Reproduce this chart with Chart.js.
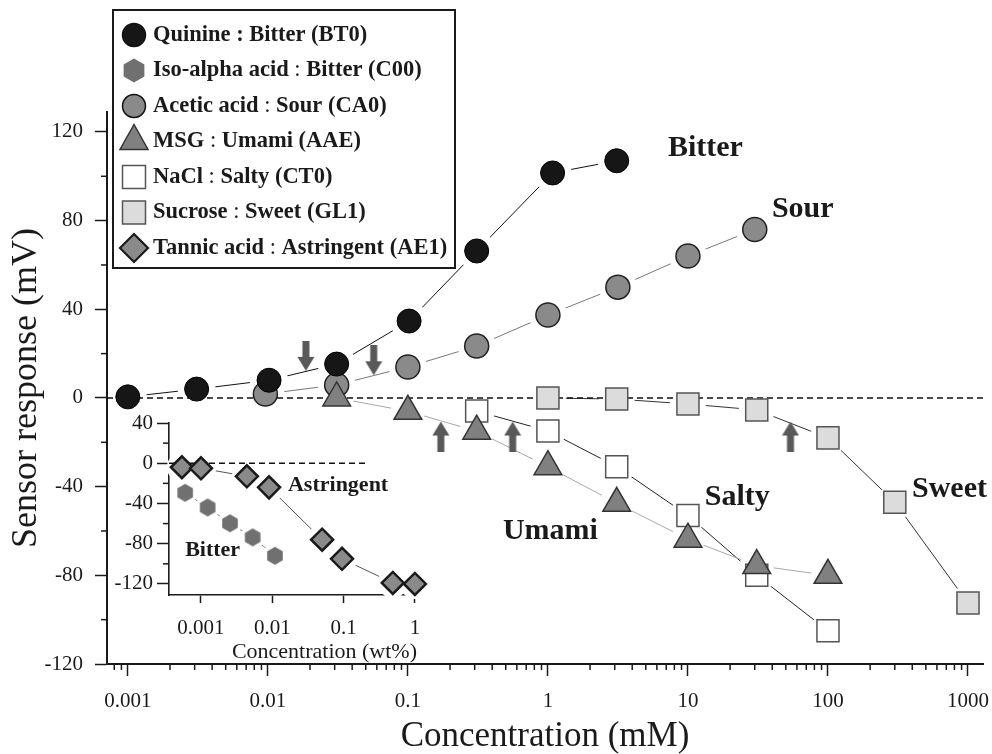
<!DOCTYPE html>
<html><head><meta charset="utf-8">
<script src="https://cdn.jsdelivr.net/npm/chart.js@4.4.1/dist/chart.umd.min.js"></script>
<style>
html,body{margin:0;padding:0;background:#fff;}
#wrap{position:relative;width:992px;height:754px;overflow:hidden;}
#main{position:absolute;left:0;top:0;}
#inset{position:absolute;left:100px;top:405px;}
</style></head><body>
<div id="wrap"><canvas id="main" width="992" height="754"></canvas><canvas id="inset" width="330" height="265"></canvas></div>
<script>
// ---------- data ----------
const bitterX = [0.001, 0.0031, 0.0102, 0.031, 0.102, 0.31, 1.08, 3.1];
const bitterY = [0.5, 4, 8, 15.3, 34.7, 66.3, 101.5, 107];
const sourX = [0.0096, 0.031, 0.1, 0.31, 1, 3.16, 10, 30];
const sourY = [1.8, 5.9, 14, 23.4, 37.4, 50, 64, 76];
const umamiX = [0.031, 0.1, 0.31, 1, 3.1, 10, 31, 100];
const umamiY = [0, -6, -15, -31, -47.5, -63.7, -75.6, -80];
const saltyX = [0.31, 1, 3.1, 10, 31, 100];
const saltyY = [-5.9, -14.9, -31, -53, -80, -105];
const sweetX = [1, 3.1, 10, 31, 100, 300, 1000];
const sweetY = [0, -0.5, -2.7, -5.4, -18, -47, -92.5];
const arrowDownX = [0.0187, 0.057];
const arrowDownY = [19, 17];
const arrowUpX = [0.172, 0.56, 54];
const arrowUpY = [-17.4, -17.4, -17.4];
// inset (wt%)
const astringentX = [0.00054, 0.001, 0.0044, 0.009, 0.05, 0.095, 0.49, 1.0];
const astringentY = [-4, -5, -13, -24, -76, -95, -119, -120];
const isoAlphaX = [0.0006, 0.00124, 0.00255, 0.0053, 0.0109];
const isoAlphaY = [-29.4, -44, -59.7, -73.7, -92];
// ticks
const mainXTicks = [0.001, 0.01, 0.1, 1, 10, 100, 1000];
const mainXTickLabels = ['0.001', '0.01', '0.1', '1', '10', '100', '1000'];
const mainYTicks = [-120, -80, -40, 0, 40, 80, 120];
const mainYMinorTicks = [-100, -60, -20, 20, 60, 100];
const insetXTicks = [0.001, 0.01, 0.1, 1];
const insetXTickLabels = ['0.001', '0.01', '0.1', '1'];
const insetYTicks = [-120, -80, -40, 0, 40];
const insetYMinorTicks = [-100, -60, -20, 20];
// legend text
const legendNames = ['Quinine', 'Iso-alpha acid', 'Acetic acid', 'MSG', 'NaCl', 'Sucrose', 'Tannic acid'];
const legendTastes = ['Bitter (BT0)', 'Bitter (C00)', 'Sour (CA0)', 'Umami (AAE)', 'Salty (CT0)', 'Sweet (GL1)', 'Astringent (AE1)'];
// curve annotations
const curveLabels = ['Bitter', 'Sour', 'Salty', 'Umami', 'Sweet'];
const curveLabelX = [7.2, 39.8, 13.2, 0.477, 398];
const curveLabelY = [112.8, 85.2, -44.7, -60, -41];
const insetLabels = ['Astringent', 'Bitter'];
const insetLabelX = [0.0166, 0.0006];
const insetLabelY = [-22, -87];

// ---------- ranges ----------
const X_MIN = 0.00071, X_MAX = 1280, Y_MIN = -120, Y_MAX = 129;
const IX_MIN = 0.000356, IX_MAX = 1.07, IY_MIN = -131, IY_MAX = 40;
const INSET_ZERO_END = 0.22;

const FONT = "'Liberation Serif', 'Times New Roman', serif";
const INK = '#1a1a1a';
Chart.defaults.font.family = FONT;
Chart.defaults.color = INK;

const pts = (xs, ys) => xs.map((x, i) => ({x: x, y: ys[i]}));

function minorLogTicks(lo, hi) {
  const out = [];
  for (let k = -5; k <= 4; k++) for (let m = 2; m <= 9; m++) {
    const v = m * Math.pow(10, k);
    if (v >= lo && v <= hi) out.push(v);
  }
  return out;
}

function makeHex(r, color) {
  const c = document.createElement('canvas');
  const s = Math.ceil(2 * r + 2);
  c.width = s; c.height = s;
  const g = c.getContext('2d');
  g.fillStyle = color;
  g.beginPath();
  for (let k = 0; k < 6; k++) {
    const a = Math.PI / 2 + k * Math.PI / 3;
    const px = s / 2 + r * Math.cos(a), py = s / 2 - r * Math.sin(a);
    if (k) g.lineTo(px, py); else g.moveTo(px, py);
  }
  g.closePath(); g.fill();
  return c;
}
function makeArrow(up) {
  const c = document.createElement('canvas');
  c.width = 18; c.height = 30;
  const g = c.getContext('2d');
  g.fillStyle = '#595959';
  g.beginPath();
  if (up) {
    g.moveTo(9, 0); g.lineTo(0.5, 14); g.lineTo(17.5, 14); g.closePath(); g.fill();
    g.fillRect(5.5, 13, 7, 17);
  } else {
    g.moveTo(9, 30); g.lineTo(0.5, 16); g.lineTo(17.5, 16); g.closePath(); g.fill();
    g.fillRect(5.5, 0, 7, 17);
  }
  return c;
}
const hexImg = makeHex(9, '#707070');
const arrowDownImg = makeArrow(false);
const arrowUpImg = makeArrow(true);

// ---------- plugins ----------
const haloPlugin = {
  id: 'halo',
  beforeDatasetDraw(chart, args) {
    const ds = chart.data.datasets[args.index];
    if (!ds.haloTrigger) return;
    const ctx = chart.ctx;
    ctx.save();
    ctx.fillStyle = '#ffffff';
    chart.data.datasets.forEach((d, i) => {
      if (!d.halo) return;
      chart.getDatasetMeta(i).data.forEach(p => {
        ctx.beginPath(); ctx.arc(p.x, p.y, d.halo, 0, Math.PI * 2); ctx.fill();
      });
    });
    ctx.restore();
  }
};
const minorTickPlugin = {
  id: 'minorTicks',
  afterDraw(chart, args, o) {
    const ctx = chart.ctx, a = chart.chartArea;
    ctx.save();
    ctx.strokeStyle = INK; ctx.lineWidth = 1.5;
    (o.x || []).forEach(v => {
      const px = chart.scales.x.getPixelForValue(v);
      ctx.beginPath(); ctx.moveTo(px, a.bottom); ctx.lineTo(px, a.bottom + o.len); ctx.stroke();
    });
    (o.y || []).forEach(v => {
      const py = chart.scales.y.getPixelForValue(v);
      ctx.beginPath(); ctx.moveTo(a.left - o.len, py); ctx.lineTo(a.left, py); ctx.stroke();
    });
    ctx.restore();
  }
};
const textPlugin = {
  id: 'curveText',
  afterDatasetsDraw(chart, args, o) {
    const ctx = chart.ctx;
    ctx.save();
    ctx.fillStyle = INK;
    ctx.font = 'bold ' + o.size + 'px ' + FONT;
    ctx.textAlign = 'left'; ctx.textBaseline = 'middle';
    o.texts.forEach((t, i) => {
      ctx.fillText(t, chart.scales.x.getPixelForValue(o.xs[i]), chart.scales.y.getPixelForValue(o.ys[i]));
    });
    ctx.restore();
  }
};
function legendMarker(ctx, i, x, y) {
  ctx.save();
  ctx.beginPath();
  if (i === 0 || i === 2) {
    ctx.arc(x, y, 11.5, 0, Math.PI * 2);
    ctx.fillStyle = i === 0 ? '#161616' : '#8a8a8a';
    ctx.fill(); ctx.lineWidth = 1.5; ctx.strokeStyle = '#111'; ctx.stroke();
  } else if (i === 1) {
    for (let k = 0; k < 6; k++) {
      const a = Math.PI / 2 + k * Math.PI / 3;
      const px = x + 12 * Math.cos(a), py = y - 12 * Math.sin(a);
      if (k) ctx.lineTo(px, py); else ctx.moveTo(px, py);
    }
    ctx.closePath(); ctx.fillStyle = '#707070'; ctx.fill();
  } else if (i === 3) {
    ctx.moveTo(x, y - 17); ctx.lineTo(x - 14, y + 8); ctx.lineTo(x + 14, y + 8); ctx.closePath();
    ctx.fillStyle = '#808080'; ctx.fill(); ctx.lineWidth = 1.5; ctx.strokeStyle = '#333'; ctx.stroke();
  } else if (i === 4 || i === 5) {
    ctx.rect(x - 11.5, y - 11.5, 23, 23);
    ctx.fillStyle = i === 4 ? '#ffffff' : '#dcdcdc'; ctx.fill();
    ctx.lineWidth = 1.5; ctx.strokeStyle = '#555'; ctx.stroke();
  } else {
    ctx.moveTo(x, y - 14); ctx.lineTo(x + 14, y); ctx.lineTo(x, y + 14); ctx.lineTo(x - 14, y); ctx.closePath();
    ctx.fillStyle = '#8a8a8a'; ctx.fill(); ctx.lineWidth = 2.2; ctx.strokeStyle = '#1a1a1a'; ctx.stroke();
  }
  ctx.restore();
}
const legendPlugin = {
  id: 'tasteLegend',
  afterDraw(chart, args, o) {
    const ctx = chart.ctx;
    ctx.save();
    ctx.lineWidth = 2; ctx.strokeStyle = INK;
    ctx.strokeRect(o.left, o.top, o.width, o.height);
    ctx.fillStyle = INK; ctx.textBaseline = 'middle'; ctx.textAlign = 'left';
    legendNames.forEach((name, i) => {
      const cy = o.firstRow + i * o.rowGap;
      legendMarker(ctx, i, o.markerX, cy);
      let x = o.textX;
      ctx.fillStyle = INK;
      ctx.font = 'bold ' + o.size + 'px ' + FONT;
      ctx.fillText(name, x, cy); x += ctx.measureText(name).width;
      ctx.font = (i === 0 ? 'bold ' : '') + o.size + 'px ' + FONT;
      ctx.fillText(' : ', x, cy); x += ctx.measureText(' : ').width;
      ctx.font = 'bold ' + o.size + 'px ' + FONT;
      ctx.fillText(legendTastes[i], x, cy);
    });
    ctx.restore();
  }
};

const axisGrid = {display: true, drawOnChartArea: false, drawTicks: true, tickLength: 12, tickWidth: 1.5, tickColor: INK, color: INK};
const axisBorder = {display: true, color: INK, width: 2};

// ---------- main chart ----------
const lineDs = (xs, ys, color) => ({data: pts(xs, ys), showLine: true, borderColor: color, borderWidth: 1, pointRadius: 0, order: 5});
new Chart(document.getElementById('main'), {
  type: 'scatter',
  data: {datasets: [
    lineDs(bitterX, bitterY, '#111111'),
    lineDs(sourX, sourY, '#777777'),
    lineDs(umamiX, umamiY, '#a8a8a8'),
    lineDs(saltyX, saltyY, '#222222'),
    lineDs(sweetX, sweetY, '#333333'),
    {data: [{x: X_MIN, y: 0}, {x: X_MAX, y: 0}], showLine: true, borderColor: '#111', borderWidth: 1.6, borderDash: [6, 4], pointRadius: 0, order: 4, haloTrigger: true},
    {label: 'Sucrose : Sweet (GL1)', data: pts(sweetX, sweetY), pointStyle: 'rect', pointRadius: 15.6, backgroundColor: '#dcdcdc', borderColor: '#555', borderWidth: 1.5, order: 2.5, halo: 18},
    {label: 'NaCl : Salty (CT0)', data: pts(saltyX, saltyY), pointStyle: 'rect', pointRadius: 15.6, backgroundColor: '#ffffff', borderColor: '#555', borderWidth: 1.5, order: 2.4, halo: 18},
    {label: 'Acetic acid : Sour (CA0)', data: pts(sourX, sourY), pointStyle: 'circle', pointRadius: 12, backgroundColor: '#8a8a8a', borderColor: '#222', borderWidth: 1.5, order: 2.3, halo: 19},
    {label: 'Quinine : Bitter (BT0)', data: pts(bitterX, bitterY), pointStyle: 'circle', pointRadius: 12, backgroundColor: '#161616', borderColor: '#000', borderWidth: 1, order: 2.2, halo: 19},
    {label: 'MSG : Umami (AAE)', data: pts(umamiX, umamiY), pointStyle: 'triangle', pointRadius: 16, backgroundColor: '#808080', borderColor: '#333', borderWidth: 1.5, order: 2.1, halo: 17},
    {data: pts(arrowDownX, arrowDownY), pointStyle: arrowDownImg, pointRadius: 3, order: 1},
    {data: pts(arrowUpX, arrowUpY), pointStyle: arrowUpImg, pointRadius: 3, order: 1}
  ]},
  options: {
    responsive: false, animation: false, events: [],
    layout: {autoPadding: false, padding: {left: 0, top: 112, right: 9, bottom: 0}},
    plugins: {
      legend: {display: false}, tooltip: {enabled: false},
      minorTicks: {x: minorLogTicks(X_MIN, X_MAX), y: mainYMinorTicks, len: 6},
      curveText: {texts: curveLabels, xs: curveLabelX, ys: curveLabelY, size: 30},
      tasteLegend: {left: 113, top: 10, width: 342, height: 258, firstRow: 35, rowGap: 35.5, markerX: 134, textX: 153, size: 22.5}
    },
    scales: {
      x: {
        type: 'logarithmic', position: 'bottom', min: X_MIN, max: X_MAX,
        afterBuildTicks: s => { s.ticks = mainXTicks.map(v => ({value: v})); },
        afterFit: s => { s.height = 90; s.paddingLeft = 0; s.paddingRight = 0; },
        ticks: {autoSkip: false, maxRotation: 0, padding: 13, color: INK, font: {size: 21},
          callback: (v, i) => mainXTickLabels[i]},
        grid: axisGrid, border: axisBorder,
        title: {display: true, text: 'Concentration (mM)', color: INK, font: {size: 35, lineHeight: 1}, padding: {top: 0, bottom: 0}}
      },
      y: {
        type: 'linear', position: 'left', min: Y_MIN, max: Y_MAX,
        afterBuildTicks: s => { s.ticks = mainYTicks.map(v => ({value: v})); },
        afterFit: s => { s.width = 107; s.paddingTop = 0; s.paddingBottom = 0; },
        ticks: {padding: 12, color: INK, font: {size: 21}, callback: (v, i) => String(mainYTicks[i])},
        grid: axisGrid, border: axisBorder,
        title: {display: true, text: 'Sensor response (mV)', color: INK, font: {size: 36, lineHeight: 1}, padding: {top: 9, bottom: 0}}
      }
    }
  },
  plugins: [haloPlugin, minorTickPlugin, textPlugin, legendPlugin]
});

// ---------- inset chart ----------
new Chart(document.getElementById('inset'), {
  type: 'scatter',
  data: {datasets: [
    {data: pts(astringentX, astringentY), showLine: true, borderColor: '#555', borderWidth: 1, pointRadius: 0, order: 5, clip: false},
    {data: pts(isoAlphaX, isoAlphaY), showLine: true, borderColor: '#8a8a8a', borderWidth: 1, pointRadius: 0, order: 5, clip: false},
    {data: [{x: IX_MIN, y: 0}, {x: INSET_ZERO_END, y: 0}], showLine: true, borderColor: '#111', borderWidth: 1.5, borderDash: [6, 4], pointRadius: 0, order: 4, haloTrigger: true, clip: false},
    {label: 'Iso-alpha acid : Bitter (C00)', data: pts(isoAlphaX, isoAlphaY), pointStyle: hexImg, pointRadius: 3, order: 2.2, halo: 12, clip: false},
    {label: 'Tannic acid : Astringent (AE1)', data: pts(astringentX, astringentY), pointStyle: 'rectRot', pointRadius: 11, backgroundColor: '#8a8a8a', borderColor: '#1a1a1a', borderWidth: 2.5, order: 2.1, halo: 15, clip: false}
  ]},
  options: {
    responsive: false, animation: false, events: [],
    layout: {autoPadding: false, padding: {left: 0, top: 18, right: 13, bottom: 0}},
    plugins: {
      legend: {display: false}, tooltip: {enabled: false},
      minorTicks: {y: insetYMinorTicks, len: 6},
      curveText: {texts: insetLabels, xs: insetLabelX, ys: insetLabelY, size: 22}
    },
    scales: {
      x: {
        type: 'logarithmic', position: 'bottom', min: IX_MIN, max: IX_MAX,
        afterBuildTicks: s => { s.ticks = insetXTicks.map(v => ({value: v})); },
        afterFit: s => { s.height = 75; s.paddingLeft = 0; s.paddingRight = 0; },
        ticks: {autoSkip: false, maxRotation: 0, padding: 13, color: INK, font: {size: 21},
          callback: (v, i) => insetXTickLabels[i]},
        grid: Object.assign({}, axisGrid, {tickLength: 8}),
        border: {display: true, color: INK, width: 1.6},
        title: {display: true, text: 'Concentration (wt%)', align: 'end', color: INK, font: {size: 22, lineHeight: 1}, padding: {top: 0, bottom: 7}}
      },
      y: {
        type: 'linear', position: 'left', min: IY_MIN, max: IY_MAX,
        afterBuildTicks: s => { s.ticks = insetYTicks.map(v => ({value: v})); },
        afterFit: s => { s.width = 69; s.paddingTop = 0; s.paddingBottom = 0; },
        ticks: {padding: 4, color: INK, font: {size: 21}, callback: (v, i) => String(insetYTicks[i])},
        grid: axisGrid,
        border: {display: true, color: INK, width: 1.6}
      }
    }
  },
  plugins: [haloPlugin, minorTickPlugin, textPlugin]
});
</script>
</body></html>
